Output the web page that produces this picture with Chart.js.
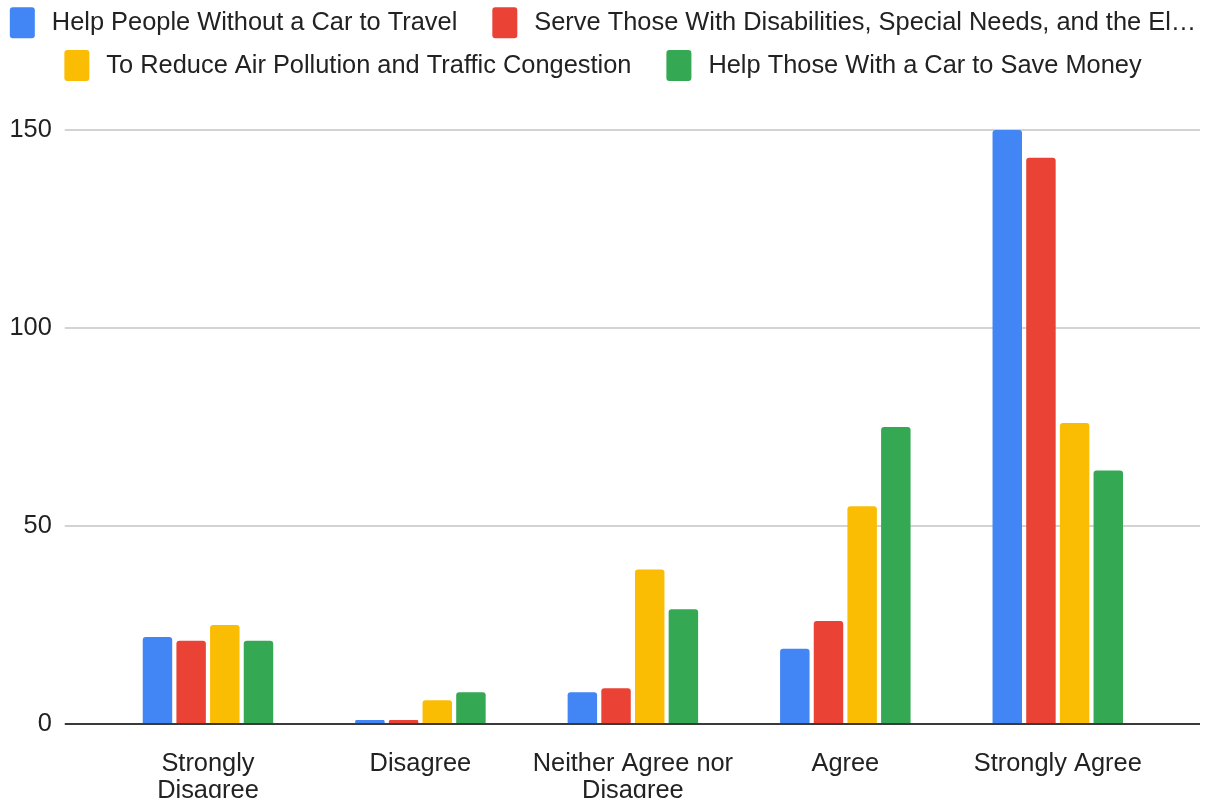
<!DOCTYPE html>
<html>
<head>
<meta charset="utf-8">
<title>Survey responses</title>
<script src="https://cdn.jsdelivr.net/npm/chart.js@4.4.1/dist/chart.umd.min.js"></script>
<style>
  html, body { margin: 0; padding: 0; background: #ffffff; }
  #wrap { width: 1206px; height: 804px; position: relative; }
</style>
</head>
<body>
<div id="wrap"><canvas id="chart"></canvas></div>
<script>
// Response categories (multi-line labels are arrays)
const categories = [
  ['Strongly', 'Disagree'],
  'Disagree',
  ['Neither Agree nor', 'Disagree'],
  'Agree',
  'Strongly Agree'
];

// Series names
const seriesNames = [
  'Help People Without a Car to Travel',
  'Serve Those With Disabilities, Special Needs, and the Elderly',
  'To Reduce Air Pollution and Traffic Congestion',
  'Help Those With a Car to Save Money'
];

// Counts per response category
const helpWithoutCar     = [22, 1, 8, 19, 150];
const serveDisabilities  = [21, 1, 9, 26, 143];
const reduceAirPollution = [25, 6, 39, 55, 76];
const helpSaveMoney      = [21, 8, 29, 75, 64];

// Value axis ticks
const yTicks = [0, 50, 100, 150];

const seriesColors = ['#4285F4', '#EA4335', '#FBBC04', '#34A853'];
const FONT = '"Liberation Sans", Arial, Helvetica, sans-serif';
const FONT_SIZE = 25.4;
const TEXT = '#222222';

Chart.defaults.font.family = FONT;

const seriesValues = [helpWithoutCar, serveDisabilities, reduceAirPollution, helpSaveMoney];

// Two-row centred legend with tall rounded swatches
const legendRows = [[0, 1], [2, 3]];
const topLegend = {
  id: 'topLegend',
  afterDraw(chart) {
    const ctx = chart.ctx;
    const sw = { w: 25, h: 31, r: 3, gap: 17, itemGap: 35, margin: 9 };
    const rowY = [22.8, 65.5];
    ctx.save();
    ctx.font = FONT_SIZE + 'px ' + FONT;
    ctx.textBaseline = 'middle';
    ctx.textAlign = 'left';
    legendRows.forEach((row, ri) => {
      const items = row.map(i => ({ i, text: chart.data.datasets[i].label }));
      const widthOf = it => sw.w + sw.gap + ctx.measureText(it.text).width;
      const total = () => items.reduce((s, it) => s + widthOf(it), 0) + sw.itemGap * (items.length - 1);
      const avail = chart.width - 2 * sw.margin;
      const last = items[items.length - 1];
      if (total() > avail) {
        const full = last.text;
        let n = full.length;
        while (n > 1 && total() > avail) {
          n--;
          last.text = full.slice(0, n).trimEnd() + '\u2026';
        }
      }
      let x = (chart.width - total()) / 2;
      items.forEach(it => {
        const ds = chart.data.datasets[it.i];
        ctx.fillStyle = ds.backgroundColor;
        ctx.beginPath();
        ctx.roundRect(x, rowY[ri] - sw.h / 2, sw.w, sw.h, sw.r);
        ctx.fill();
        ctx.fillStyle = TEXT;
        ctx.fillText(it.text, x + sw.w + sw.gap, rowY[ri]);
        x += widthOf(it) + sw.itemGap;
      });
    });
    ctx.restore();
  }
};

const gridColor = c => (c.tick && c.tick.value === 0) ? '#3a3a3a' : '#d3d3d3';
const setTicks = scale => { scale.ticks = yTicks.map(v => ({ value: v })); };

new Chart(document.getElementById('chart'), {
  type: 'bar',
  data: {
    labels: categories,
    datasets: seriesNames.map((name, i) => ({
      label: name,
      data: seriesValues[i],
      backgroundColor: seriesColors[i],
      borderRadius: 3,
      categoryPercentage: 0.634,
      barPercentage: 0.875
    }))
  },
  options: {
    responsive: true,
    maintainAspectRatio: false,
    animation: false,
    layout: { padding: { top: 130, left: 10, right: 6, bottom: 6 } },
    plugins: {
      legend: { display: false },
      tooltip: { enabled: false }
    },
    scales: {
      x: {
        afterFit: s => { s.height = 74; },
        grid: { display: false, drawTicks: false },
        border: { display: false },
        ticks: {
          color: TEXT,
          font: { size: FONT_SIZE, lineHeight: 1.05 },
          padding: 27,
          maxRotation: 0,
          autoSkip: false
        }
      },
      y: {
        min: 0,
        max: 150,
        afterBuildTicks: setTicks,
        afterFit: s => { s.width = 91.75; },
        border: { display: false },
        grid: { color: gridColor, lineWidth: 2, drawTicks: true, tickLength: 37 },
        ticks: { color: TEXT, font: { size: FONT_SIZE }, padding: 13 }
      },
      y2: {
        position: 'right',
        min: 0,
        max: 150,
        afterBuildTicks: setTicks,
        afterFit: s => { s.width = 36; },
        border: { display: false },
        grid: { color: gridColor, lineWidth: 2, drawOnChartArea: false, drawTicks: true, tickLength: 36 },
        ticks: { display: false }
      }
    }
  },
  plugins: [topLegend]
});
</script>
</body>
</html>
